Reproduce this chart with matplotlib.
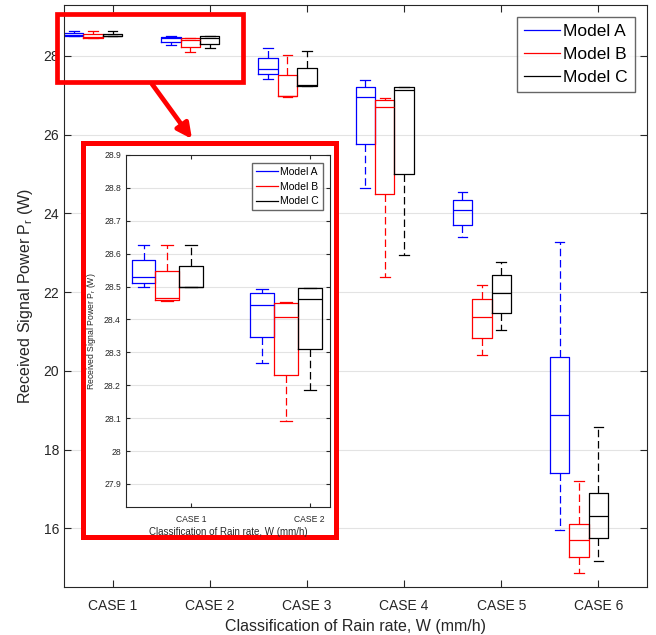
import matplotlib
matplotlib.use("Agg")
import matplotlib.pyplot as plt
from matplotlib.patches import Rectangle, FancyArrowPatch

plt.rcParams['font.family'] = ['Liberation Sans', 'DejaVu Sans']
plt.rcParams['mathtext.fontset'] = 'custom'
plt.rcParams['mathtext.rm'] = 'Liberation Sans'
plt.rcParams['mathtext.it'] = 'Liberation Sans:italic'

cases = ["CASE 1", "CASE 2", "CASE 3", "CASE 4", "CASE 5", "CASE 6"]
models = ["Model A", "Model B", "Model C"]
colors = ["#0000ff", "#ff0000", "#000000"]

# five-number summaries per model: lower whisker, Q1, median, Q3, upper whisker
a_lo  = [28.500, 28.268, 27.42, 24.64, 23.41, 15.96]
a_q1  = [28.512, 28.347, 27.53, 25.76, 23.71, 17.41]
a_med = [28.530, 28.444, 27.66, 26.95, 24.09, 18.89]
a_q3  = [28.582, 28.479, 27.94, 27.20, 24.35, 20.36]
a_hi  = [28.627, 28.492, 28.21, 27.39, 24.54, 23.27]

b_lo  = [28.455, 28.092, 26.96, 22.38, 20.40, 14.87]
b_q1  = [28.458, 28.232, 26.98, 24.50, 20.84, 15.28]
b_med = [28.466, 28.409, 26.99, 26.71, 21.37, 15.70]
b_q3  = [28.547, 28.451, 27.51, 26.88, 21.83, 16.11]
b_hi  = [28.627, 28.454, 28.01, 26.93, 22.19, 17.20]

c_lo  = [28.499, 28.187, 27.24, 22.94, 21.05, 15.18]
c_q1  = [28.499, 28.311, 27.24, 24.99, 21.47, 15.75]
c_med = [28.500, 28.463, 27.25, 27.12, 21.99, 16.32]
c_q3  = [28.564, 28.496, 27.69, 27.20, 22.43, 16.89]
c_hi  = [28.627, 28.497, 28.11, 27.22, 22.77, 18.57]

series = [
    (a_lo, a_q1, a_med, a_q3, a_hi),
    (b_lo, b_q1, b_med, b_q3, b_hi),
    (c_lo, c_q1, c_med, c_q3, c_hi),
]
offsets = [-0.4, -0.2, 0.0]

W, H = 656, 635
fig = plt.figure(figsize=(W / 100, H / 100), dpi=100)

def fx(px):
    return px / W

def fy(py):
    return 1 - py / H

TXT = '#262626'

def draw_boxes(ax, ncase, lw=0.9, dash=(6, 3)):
    handles = []
    for k, (lo, q1, med, q3, hi) in enumerate(series):
        stats = []
        for i in range(ncase):
            stats.append(dict(whislo=lo[i], q1=q1[i], med=med[i], q3=q3[i], whishi=hi[i]))
        pos = [i + 1 + offsets[k] for i in range(ncase)]
        col = colors[k]
        ax.bxp(stats, positions=pos, widths=0.2, capwidths=0.1, showfliers=False,
               boxprops=dict(color=col, linewidth=lw),
               medianprops=dict(color=col, linewidth=lw),
               whiskerprops=dict(color=col, linewidth=lw, linestyle=(0, dash)),
               capprops=dict(color=col, linewidth=lw),
               manage_ticks=False)
        h, = ax.plot([], [], color=col, linewidth=lw, label=models[k])
        handles.append(h)
    return handles

def style_axes(ax, fs, ticklen):
    ax.tick_params(direction='in', top=True, right=True, length=ticklen,
                   labelsize=fs, colors=TXT, width=0.8)
    for s in ax.spines.values():
        s.set_color(TXT)
        s.set_linewidth(0.8)
    ax.yaxis.grid(True, color='#e3e3e3', linewidth=0.8)
    ax.set_axisbelow(True)

# main axes
ax = fig.add_axes([fx(64), fy(586.7), fx(647 - 64), (586.7 - 5) / H])
handles = draw_boxes(ax, 6)
ax.set_xlim(0.5, 6.5)
ax.set_ylim(14.52, 29.29)
ax.set_xticks(range(1, 7))
ax.set_xticklabels(cases)
ax.set_yticks([16, 18, 20, 22, 24, 26, 28])
style_axes(ax, 10, 5)
ax.tick_params(axis='x', pad=9)
ax.set_xlabel("Classification of Rain rate, W (mm/h)", fontsize=11.5, color=TXT, labelpad=4)
ax.set_ylabel(r"Received Signal Power P$_{\mathrm{r}}$ (W)", fontsize=11.5, color=TXT, labelpad=6)
leg = ax.legend(handles=handles, loc='upper right', bbox_to_anchor=(fx(635), fy(17)),
                bbox_transform=fig.transFigure, borderaxespad=0, fontsize=12.5,
                frameon=True, fancybox=False, handlelength=2.1, handletextpad=0.2,
                labelspacing=0.45, borderpad=0.4)
leg.get_frame().set_edgecolor('#404040')
leg.get_frame().set_linewidth(1.0)

# small highlight rectangle in main axes
fig.add_artist(Rectangle((fx(57), fy(82)), fx(243 - 57), (82 - 14) / H,
                         transform=fig.transFigure, fill=False, edgecolor='#ff0000',
                         linewidth=3.4, zorder=5))
# big white-filled rectangle framing the inset
fig.add_artist(Rectangle((fx(83), fy(537)), fx(336 - 83), (537 - 142.5) / H,
                         transform=fig.transFigure, facecolor='white', edgecolor='#ff0000',
                         linewidth=3.6, zorder=6))
# arrow
fig.add_artist(FancyArrowPatch((fx(152), fy(84)), (fx(192), fy(139)),
                               transform=fig.transFigure, arrowstyle='-|>',
                               mutation_scale=22, color='#ff0000', linewidth=3.4,
                               shrinkA=0, shrinkB=0, zorder=6))

# inset axes
ax2 = fig.add_axes([fx(125.7), fy(507), fx(330 - 125.7), (507 - 155) / H], zorder=7)
h2 = draw_boxes(ax2, 2, lw=0.9, dash=(6, 3))
ax2.set_xlim(0.45, 2.17)
ax2.set_ylim(27.83, 28.9)
ax2.set_xticks([1, 2])
ax2.set_xticklabels(cases[:2])
ax2.set_yticks([27.9, 28.0, 28.1, 28.2, 28.3, 28.4, 28.5, 28.6, 28.7, 28.8, 28.9])
ax2.set_yticklabels(["27.9", "28", "28.1", "28.2", "28.3", "28.4", "28.5", "28.6",
                     "28.7", "28.8", "28.9"])
style_axes(ax2, 6.2, 3)
ax2.tick_params(axis='x', pad=6)
ax2.set_xlabel("Classification of Rain rate, W (mm/h)", fontsize=7, color=TXT, labelpad=2)
ax2.set_ylabel(r"Received Signal Power P$_{\mathrm{r}}$ (W)", fontsize=6.2, color=TXT, labelpad=4)
leg2 = ax2.legend(handles=h2, loc='upper right', bbox_to_anchor=(fx(323.3), fy(162.7)),
                  bbox_transform=fig.transFigure, borderaxespad=0, fontsize=7.5,
                  frameon=True, fancybox=False, handlelength=2.1, handletextpad=0.2,
                  labelspacing=0.45, borderpad=0.4)
leg2.get_frame().set_edgecolor('#404040')
leg2.get_frame().set_linewidth(1.0)

fig.savefig("out.png", dpi=100)
